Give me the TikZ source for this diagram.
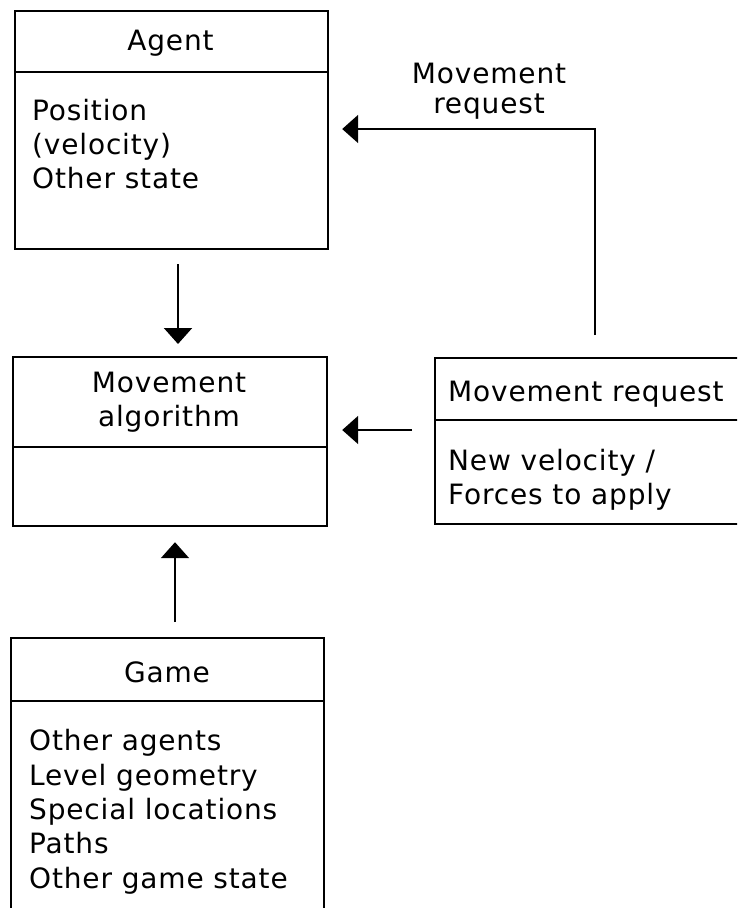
\documentclass[tikz,border=0pt]{standalone}
\usepackage{fontspec}
\newfontfamily\dejavu{DejaVu Sans}[LetterSpace=3]
\usetikzlibrary{arrows.meta}
\tikzset{
  box/.style={draw, line width=2.2pt, inner sep=0pt, anchor=north west, rectangle},
  hdr/.style={line width=2.2pt},
  txt/.style={font=\dejavu\fontsize{28}{34}\selectfont, inner sep=0pt, anchor=base west},
  ttl/.style={font=\dejavu\fontsize{28}{34}\selectfont, inner sep=0pt, anchor=base},
  conn/.style={line width=2pt, -{Triangle[length=16pt,width=28pt]}}
}
\begin{document}
\begin{tikzpicture}[x=1pt,y=-1pt]
\useasboundingbox (0,0) rectangle (737,908);
\fill[white] (0,0) rectangle (737,908);
\clip (0,0) rectangle (737,908);

% Agent
\node[box, minimum width=313pt, minimum height=238pt] (agent) at (14,10) {};
\draw[hdr] (agent.west |- 0,72) -- (agent.east |- 0,72);
\node[ttl] (agentT) at (170.5,50) {Agent};
\node[txt] (agentB1) at (32,120) {Position};
\node[txt] (agentB2) at (32,154) {(velocity)};
\node[txt] (agentB3) at (32,188) {Other state};

% Movement algorithm
\node[box, minimum width=314pt, minimum height=169pt] (ma) at (12,356) {};
\draw[hdr] (ma.west |- 0,447) -- (ma.east |- 0,447);
\node[ttl] (maT1) at (169,392) {Movement};
\node[ttl] (maT2) at (169,426) {algorithm};

% Movement request
\node[box, minimum width=320pt, minimum height=166pt] (mr) at (434,357) {};
\draw[hdr] (mr.west |- 0,420) -- (mr.east |- 0,420);
\node[txt] (mrT) at (448,401) {Movement request};
\node[txt] (mrB1) at (448,470) {New velocity /};
\node[txt] (mrB2) at (448,504) {Forces to apply};

% Game
\node[box, minimum width=313pt, minimum height=290pt] (game) at (10,637) {};
\draw[hdr] (game.west |- 0,701) -- (game.east |- 0,701);
\node[ttl] (gameT) at (167,682) {Game};
\node[txt] (gameB1) at (29,750) {Other agents};
\node[txt] (gameB2) at (29,785) {Level geometry};
\node[txt] (gameB3) at (29,819) {Special locations};
\node[txt] (gameB4) at (29,853) {Paths};
\node[txt] (gameB5) at (29,888) {Other game state};

% connectors
\coordinate (xa) at (178,0);
\coordinate (xg) at (175,0);
\coordinate (ya) at (0,430);
\coordinate (xr) at (595,0);
\coordinate (yr) at (0,129);
\coordinate (corner) at (595,129);

\draw[conn, shorten <=14pt, shorten >=12pt] (agent.south -| xa) -- (ma.north -| xa);
\draw[conn, shorten <=15pt, shorten >=15pt] (game.north -| xg) -- (ma.south -| xg);
\draw[conn, shorten <=22pt, shorten >=14pt] (mr.west |- ya) -- (ma.east |- ya);
\draw[conn, shorten <=22pt, shorten >=13pt] (mr.north -| xr) -- (corner) -- (agent.east |- yr);

\node[ttl] (lblT1) at (489,83) {Movement};
\node[ttl] (lblT2) at (489,113) {request};
\end{tikzpicture}
\end{document}
